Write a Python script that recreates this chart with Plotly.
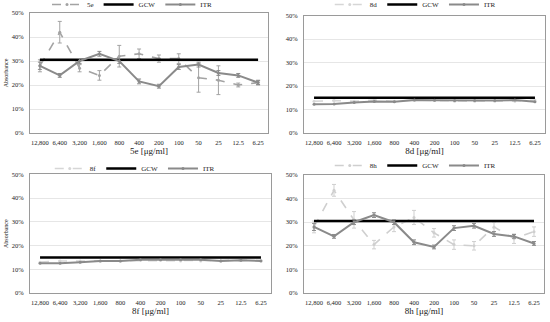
import plotly.graph_objects as go

categories = ["12,800", "6,400", "3,200", "1,600", "800", "400", "200", "100", "50", "25", "12.5", "6.25"]

# Panel 5e
s5e = [28.0, 42.0, 27.0, 24.0, 32.0, 33.0, 31.0, 31.0, 23.0, 22.0, 20.0, 21.0]
s5e_err = [2.5, 4.5, 1.5, 2.0, 4.5, 2.0, 1.5, 2.0, 6.0, 6.0, 0.8, 1.0]
itr_a = [28.0, 24.0, 30.0, 33.0, 30.0, 21.5, 19.5, 27.5, 28.5, 25.0, 24.0, 21.0]
itr_a_err = [1.5, 0.8, 1.0, 1.0, 1.0, 1.0, 0.8, 1.0, 1.0, 1.0, 0.8, 0.8]
gcw_a = [30.5] * 12

# Panel 8d
s8d = [13.5, 13.8, 13.5, 14.0, 13.5, 14.0, 13.8, 13.5, 13.5, 13.5, 13.5, 14.0]
itr_b = [12.2, 12.3, 13.0, 13.4, 13.3, 14.0, 13.9, 13.8, 13.8, 13.8, 14.0, 13.3]
gcw_b = [15.0] * 12

# Panel 8f
s8f = [13.0, 13.5, 13.5, 13.5, 13.5, 13.8, 13.8, 13.5, 13.5, 13.5, 13.8, 13.8]
itr_c = [12.5, 12.5, 13.0, 13.5, 13.5, 14.0, 14.0, 14.0, 14.0, 13.5, 13.8, 13.5]
gcw_c = [15.0] * 12

# Panel 8h
s8h = [28.0, 43.5, 31.0, 20.5, 28.0, 32.0, 25.5, 20.5, 20.0, 28.0, 23.0, 26.0]
s8h_err = [2.5, 2.5, 3.5, 1.8, 2.0, 3.0, 1.8, 2.0, 1.8, 2.0, 2.0, 2.0]
itr_d = itr_a
itr_d_err = itr_a_err
gcw_d = [30.5] * 12

panels = [
    dict(name="5e", s=s5e, serr=s5e_err, scol="#a3a3a3", itr=itr_a, ierr=itr_a_err, gcw=gcw_a,
         xd=[30/550, 268/550], yd=[1-133/322, 1-13/322], ytitle=True, leg=(0.24, 1+10/322)),
    dict(name="8d", s=s8d, serr=None, scol="#d6d6d6", itr=itr_b, ierr=None, gcw=gcw_b,
         xd=[304/550, 545/550], yd=[1-133/322, 1-15.5/322], ytitle=False, leg=(0.755, 1+10/322)),
    dict(name="8f", s=s8f, serr=None, scol="#d6d6d6", itr=itr_c, ierr=None, gcw=gcw_c,
         xd=[30/550, 271/550], yd=[1-293/322, 1-174.3/322], ytitle=True, leg=(0.245, 1-154/322)),
    dict(name="8h", s=s8h, serr=s8h_err, scol="#cfcfcf", itr=itr_d, ierr=itr_d_err, gcw=gcw_d,
         xd=[304/550, 544/550], yd=[1-293/322, 1-175/322], ytitle=False, leg=(0.755, 1-151/322)),
]

fig = go.Figure()
font = "Liberation Serif"
itr_col = "#8a8a8a"
txt = "#1a1a1a"

layout = dict(
    width=550, height=322, margin=dict(l=0, r=0, t=0, b=0, autoexpand=False),
    paper_bgcolor="white", plot_bgcolor="white", showlegend=True,
    font=dict(family=font, size=7, color=txt),
)

for i, p in enumerate(panels):
    n = i + 1
    xa = "x" if n == 1 else f"x{n}"
    ya = "y" if n == 1 else f"y{n}"
    lg = "legend" if n == 1 else f"legend{n}"
    s_err = dict(type="data", array=[v / 100 for v in p["serr"]], color=p["scol"], thickness=1, width=2) if p["serr"] else None
    i_err = dict(type="data", array=[v / 100 for v in p["ierr"]], color=itr_col, thickness=1, width=2) if p["ierr"] else None
    fig.add_trace(go.Scatter(x=categories, y=[v / 100 for v in p["s"]], name=p["name"], mode="lines+markers",
                             line=dict(color=p["scol"], width=1.6, dash="dash"),
                             marker=dict(size=3, color=p["scol"]), error_y=s_err,
                             xaxis=xa, yaxis=ya, legend=lg))
    fig.add_trace(go.Scatter(x=categories, y=[v / 100 for v in p["gcw"]], name="GCW", mode="lines",
                             line=dict(color="black", width=2.5),
                             xaxis=xa, yaxis=ya, legend=lg))
    fig.add_trace(go.Scatter(x=categories, y=[v / 100 for v in p["itr"]], name="ITR", mode="lines+markers",
                             line=dict(color=itr_col, width=2),
                             marker=dict(size=3, color=itr_col), error_y=i_err,
                             xaxis=xa, yaxis=ya, legend=lg))
    xkey = "xaxis" if n == 1 else f"xaxis{n}"
    ykey = "yaxis" if n == 1 else f"yaxis{n}"
    layout[xkey] = dict(domain=p["xd"], anchor=ya, type="category", showgrid=False, automargin=False,
                        showline=True, linecolor="#9a9a9a", linewidth=1, mirror=True,
                        ticks="", tickangle=0, ticklabelstandoff=3,
                        tickfont=dict(family=font, size=6.5, color=txt),
                        title=dict(text=f"{p['name']} [μg/ml]", font=dict(family=font, size=9, color=txt), standoff=2),
                        range=[-0.5, 11.5])
    layout[ykey] = dict(domain=p["yd"], anchor=xa, range=[0, 0.5], dtick=0.1, tickformat=".0%", automargin=False,
                        showgrid=True, gridcolor="#e6e6e6", gridwidth=1, zeroline=False,
                        showline=True, linecolor="#9a9a9a", linewidth=1, mirror=True,
                        ticks="", ticklabelstandoff=4,
                        tickfont=dict(family=font, size=6.5, color=txt),
                        title=dict(text="Absorbance" if p["ytitle"] else "", font=dict(family=font, size=6, color=txt), standoff=2))
    layout[lg] = dict(orientation="h", x=p["leg"][0], y=p["leg"][1], xanchor="center", yanchor="top",
                      font=dict(family=font, size=7, color=txt), bgcolor="rgba(0,0,0,0)",
                      tracegroupgap=0, itemwidth=30)

fig.update_layout(**layout)
fig.write_html("out.html", config={"displayModeBar": False},
               post_script="document.body.style.margin='0';document.body.style.overflow='hidden';")
